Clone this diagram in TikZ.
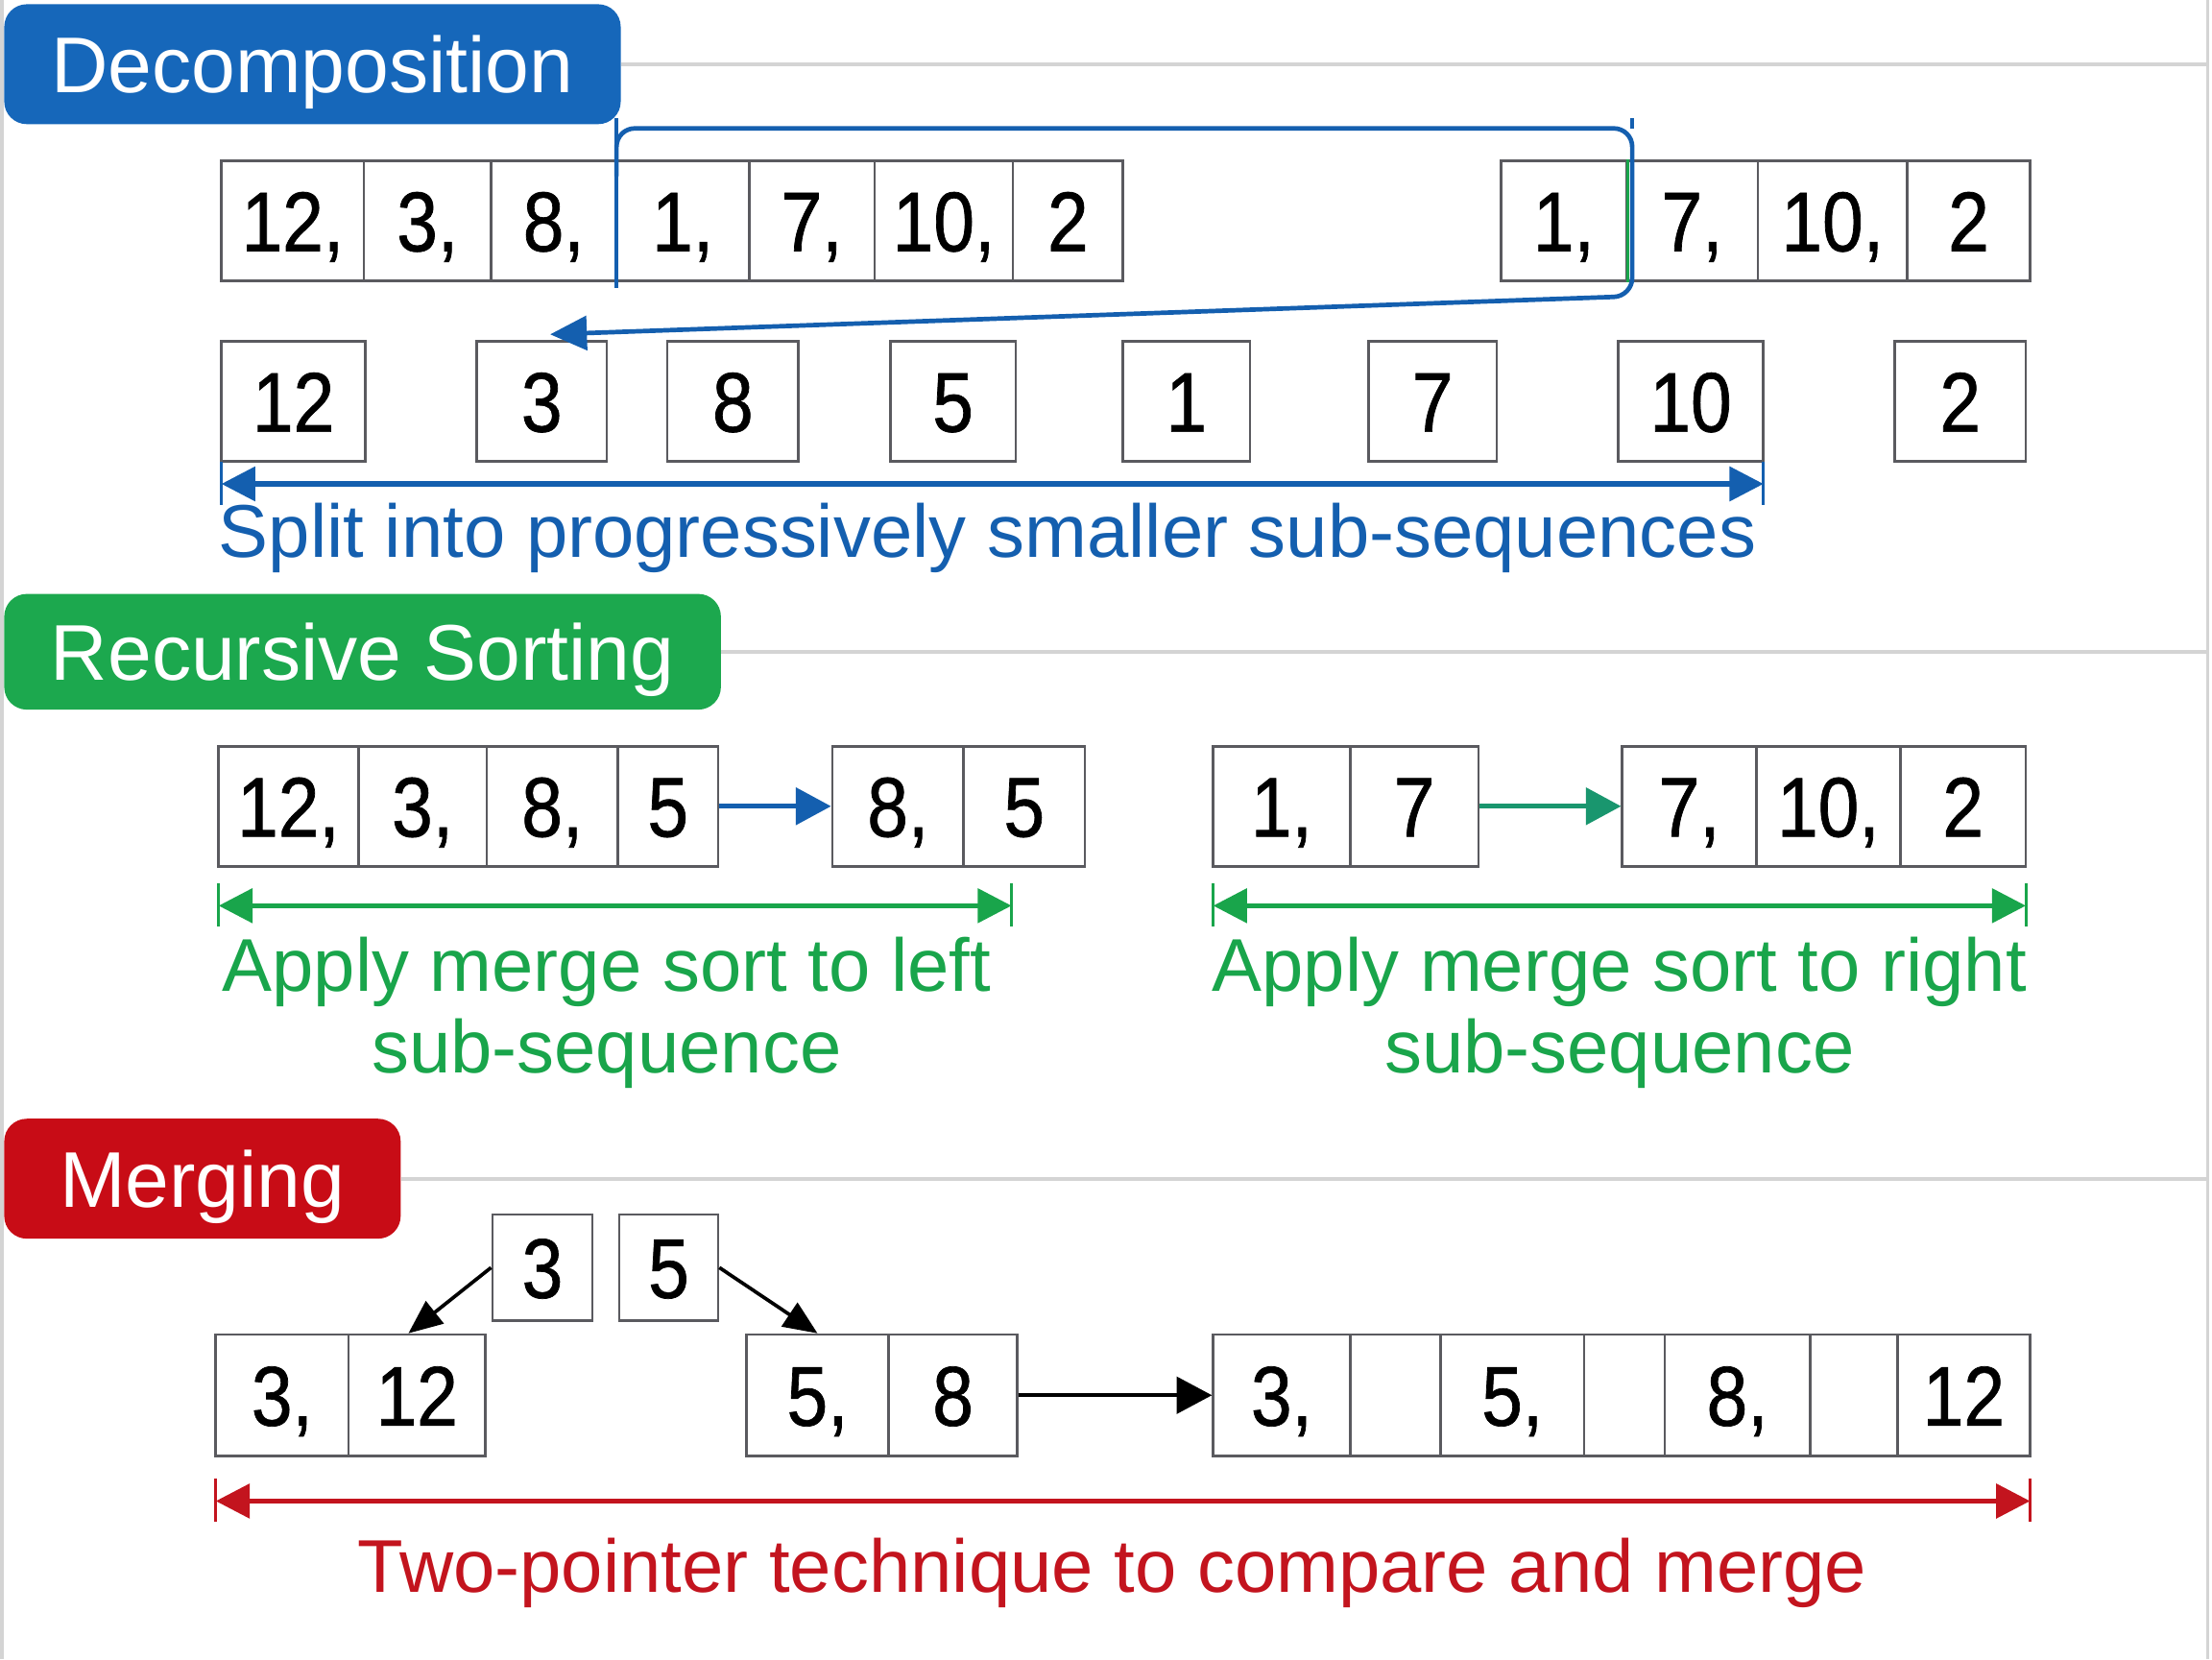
\documentclass[tikz,border=0pt]{standalone}
\usepackage{fontspec}
\setmainfont{Liberation Sans}
\newfontfamily\numfont[FakeStretch=0.87,FakeBold=0.8]{Liberation Sans}
\usetikzlibrary{arrows.meta}
\definecolor{hblue}{RGB}{22,103,186}
\definecolor{lblue}{RGB}{20,95,175}
\definecolor{hgreen}{RGB}{28,168,78}
\definecolor{tgreen}{RGB}{25,165,75}
\definecolor{teal2}{RGB}{25,150,110}
\definecolor{hred}{RGB}{200,12,22}
\definecolor{tred}{RGB}{195,20,30}
\definecolor{cellgray}{RGB}{90,90,95}
\definecolor{sepgray}{RGB}{212,212,212}
\newcommand\cellfont{\numfont\fontsize{60}{60}\selectfont}
\newcommand\hdrfont{\fontsize{56}{60}\selectfont}
\newcommand\descfont{\fontsize{53}{58}\selectfont}
\newcommand\cellnode[6]{\node[cell, minimum width={#3-#2}, minimum height={#5-#4}] (#1) at ({(#2+#3)/2},{(#4+#5)/2}) {#6};}
\begin{document}
\begin{tikzpicture}[x=1pt,y=-1pt,
  cell/.style={draw=cellgray, line width=1.8pt, fill=white, inner sep=0pt, text height=43pt, text depth=0pt, font=\cellfont},
  header/.style={rounded corners=16pt, inner sep=0pt, text=white, text height=40pt, text depth=0pt, font=\hdrfont},
  sepline/.style={draw=sepgray, line width=2.5pt},
  dim/.style={line width=3.5pt, {Triangle[length=24pt,width=24pt]}-{Triangle[length=24pt,width=24pt]}},
  tick/.style={line width=2pt},
  ptr/.style={line width=3.5pt, -{Triangle[length=25pt,width=26pt]}},
  bline/.style={draw=lblue, line width=3.2pt},
  desc/.style={font=\descfont, inner sep=0pt},
]
\useasboundingbox (0,0) rectangle (1568,1176);
\fill[white] (0,0) rectangle (1568,1176);
\coordinate (ledge) at (1.5,0);
\coordinate (redge) at (1565,0);
\draw[sepline] (ledge) -- (1.5,1176);
\draw[sepline] (redge) -- (1565,1176);

% headers
\node[header, fill=hblue, minimum width=437pt, minimum height=85pt] (hdec) at (221.5,45.5) {Decomposition};
\node[header, fill=hgreen, minimum width=508pt, minimum height=82pt] (hrec) at (257,462) {Recursive Sorting};
\node[header, fill=hred, minimum width=281pt, minimum height=85pt] (hmer) at (143.5,835.5) {Merging};
\draw[sepline] (hdec.east) -- (hdec.east -| redge);
\draw[sepline] (hrec.east) -- (hrec.east -| redge);
\draw[sepline] (hmer.east) -- (hmer.east -| redge);

% ---- Decomposition, row 1
\cellnode{a1}{157}{258}{114}{199}{12,}
\cellnode{a2}{258}{348}{114}{199}{3,}
\cellnode{a3}{348}{437}{114}{199}{8,}
\cellnode{a4}{437}{531}{114}{199}{1,}
\cellnode{a5}{531}{620}{114}{199}{7,}
\cellnode{a6}{620}{718}{114}{199}{10,}
\cellnode{a7}{718}{796}{114}{199}{2}
\cellnode{b1}{1064}{1153}{114}{199}{1,}
\cellnode{b2}{1153}{1246}{114}{199}{7,}
\cellnode{b3}{1246}{1352}{114}{199}{10,}
\cellnode{b4}{1352}{1439}{114}{199}{2}
\draw[draw=tgreen, line width=2pt] (b1.north east) -- (b1.south east);

% ---- row 2
\cellnode{c1}{157}{259}{242}{327}{12}
\cellnode{c2}{338}{430}{242}{327}{3}
\cellnode{c3}{473}{566}{242}{327}{8}
\cellnode{c4}{631}{720}{242}{327}{5}
\cellnode{c5}{796}{886}{242}{327}{1}
\cellnode{c6}{970}{1061}{242}{327}{7}
\cellnode{c7}{1147}{1250}{242}{327}{10}
\cellnode{c8}{1343}{1436}{242}{327}{2}

% bracket
\coordinate (bl1) at (437,84);
\coordinate (bl2) at (437,204);
\coordinate (bstart) at (437,125);
\coordinate (btl) at (437,91);
\coordinate (btr) at (1157,91);
\coordinate (btick) at (1157,84);
\coordinate (bbr) at (1157,210);
\coordinate (btip) at (390,237);
\draw[bline] (bl1) -- (bl2);
\draw[bline] (btick) -- (btr);
\draw[bline, rounded corners=13pt, -{Triangle[length=26pt,width=24pt]}] (bstart) -- (btl) -- (btr) -- (bbr) -- (btip);

% dimension split
\coordinate (s1a) at (157,343);
\coordinate (s1b) at (1250,343);
\draw[dim, lblue] (s1a) -- (s1b);
\draw[tick, lblue] (157,327) -- (157,358);
\draw[tick, lblue] (1250,327) -- (1250,358);
\node[desc, text=lblue, anchor=base] (tsplit) at (700,395) {Split into progressively smaller sub-sequences};

% ---- Recursive sorting
\cellnode{d1}{155}{254}{529}{614}{12,}
\cellnode{d2}{254}{345}{529}{614}{3,}
\cellnode{d3}{345}{438}{529}{614}{8,}
\cellnode{d4}{438}{509}{529}{614}{5}
\cellnode{e1}{590}{683}{529}{614}{8,}
\cellnode{e2}{683}{769}{529}{614}{5}
\cellnode{f1}{860}{957}{529}{614}{1,}
\cellnode{f2}{957}{1048}{529}{614}{7}
\cellnode{g1}{1150}{1245}{529}{614}{7,}
\cellnode{g2}{1245}{1347}{529}{614}{10,}
\cellnode{g3}{1347}{1436}{529}{614}{2}
\draw[ptr, lblue] (d4.east) -- (e1.west);
\draw[ptr, teal2] (f2.east) -- (g1.west);

\coordinate (s2a) at (155,642);
\coordinate (s2b) at (717,642);
\coordinate (s2c) at (860,642);
\coordinate (s2d) at (1436,642);
\draw[dim, tgreen] (s2a) -- (s2b);
\draw[dim, tgreen] (s2c) -- (s2d);
\draw[tick, tgreen] (155,626) -- (155,657);
\draw[tick, tgreen] (717,626) -- (717,657);
\draw[tick, tgreen] (860,626) -- (860,657);
\draw[tick, tgreen] (1436,626) -- (1436,657);
\node[desc, text=tgreen, align=center, anchor=north] (tleft) at (430,664) {Apply merge sort to left\\sub-sequence};
\node[desc, text=tgreen, align=center, anchor=north] (tright) at (1148,664) {Apply merge sort to right\\sub-sequence};

% ---- Merging
\cellnode{p3}{349}{420}{861}{936}{3}
\cellnode{p5}{439}{509}{861}{936}{5}
\cellnode{h1}{153}{247}{946}{1032}{3,}
\cellnode{h2}{247}{344}{946}{1032}{12}
\cellnode{k1}{529}{630}{946}{1032}{5,}
\cellnode{k2}{630}{721}{946}{1032}{8}
\cellnode{m1}{860}{957}{946}{1032}{3,}
\cellnode{m2}{957}{1021}{946}{1032}{}
\cellnode{m3}{1021}{1123}{946}{1032}{5,}
\cellnode{m4}{1123}{1180}{946}{1032}{}
\cellnode{m5}{1180}{1283}{946}{1032}{8,}
\cellnode{m6}{1283}{1345}{946}{1032}{}
\cellnode{m7}{1345}{1439}{946}{1032}{12}
\draw[line width=2.5pt, -{Triangle[length=24pt,width=20pt]}] (p3.west) -- ([xshift=-6pt]h2.north);
\draw[line width=2.5pt, -{Triangle[length=24pt,width=20pt]}] (p5.east) -- (k1.north);
\draw[line width=2.5pt, -{Triangle[length=25pt,width=26pt]}] (k2.east) -- (m1.west);

\coordinate (s3a) at (153,1064);
\coordinate (s3b) at (1439,1064);
\draw[dim, tred] (s3a) -- (s3b);
\draw[tick, tred] (153,1048) -- (153,1079);
\draw[tick, tred] (1439,1048) -- (1439,1079);
\node[desc, text=tred, anchor=base] (tmerge) at (788.5,1129) {Two-pointer technique to compare and merge};
\end{tikzpicture}
\end{document}
